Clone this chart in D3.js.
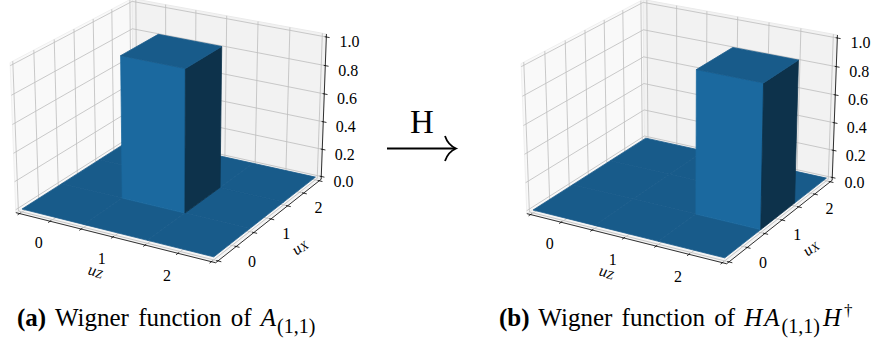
<!DOCTYPE html>
<html><head><meta charset="utf-8">
<script src="https://cdn.jsdelivr.net/npm/d3@7/dist/d3.min.js"></script>
<style>
body{margin:0;background:#fff}
text{font-family:"Liberation Serif","Times New Roman",serif;fill:#000}
</style>
</head><body>
<svg id="c" width="876" height="343" xmlns="http://www.w3.org/2000/svg" font-family="Liberation Serif, Times New Roman, serif"></svg>
<script>
// ---------------- data ----------------
const uzCategories = ["0", "1", "2"];          // x axis (u_Z)
const uxCategories = ["0", "1", "2"];          // y axis (u_X)
const gridTicks = [0, 0.5, 1, 1.5, 2, 2.5, 3]; // tick marks / grid on uz, ux
const zTicks = [0, 0.2, 0.4, 0.6, 0.8, 1.0];
const zTickLabels = ["0.0", "0.2", "0.4", "0.6", "0.8", "1.0"];
// Wigner function values, indexed [uz][ux]
const wignerA   = [[0, 0, 0], [0, 1, 0], [0, 0, 0]];
const wignerHAH = [[0, 0, 0], [0, 0, 0], [0, 1, 0]];
const captionLabels = ["(a)", "(b)"];
const arrowLabel = "H";

// ---------------- 3D projection (matplotlib-like) ----------------
const elev = 23.3, azim = -60, dist = 10;
const lim = {x: [0, 3], y: [0, 3], z: [0, 1]};
let asp = [4, 4, 3];
const an = Math.hypot(...asp);
asp = asp.map(a => a * 1.8294640721620434 / an);
const R = asp.map(a => a / 2);
const er = elev * Math.PI / 180, ar = azim * Math.PI / 180;
const w = [Math.cos(er) * Math.cos(ar), Math.cos(er) * Math.sin(ar), Math.sin(er)];
let u = [-w[1], w[0], 0]; const un = Math.hypot(...u); u = u.map(a => a / un);
const v = [w[1]*u[2]-w[2]*u[1], w[2]*u[0]-w[0]*u[2], w[0]*u[1]-w[1]*u[0]];
function proj(x, y, z) {
  const q = [
    (x - lim.x[0]) / (lim.x[1] - lim.x[0]) * asp[0] - R[0],
    (y - lim.y[0]) / (lim.y[1] - lim.y[0]) * asp[1] - R[1],
    (z - lim.z[0]) / (lim.z[1] - lim.z[0]) * asp[2] - R[2]];
  const dot = a => a[0]*q[0] + a[1]*q[1] + a[2]*q[2];
  const d = dist - dot(w);
  return [dot(u) / d, dot(v) / d];
}
const sx = d3.scaleLinear().domain([0, 1]).range([171.5, 171.5 + 1910]);
const sy = d3.scaleLinear().domain([0, 1]).range([123.1, 123.1 - 1800]);
const P = (x, y, z) => { const p = proj(x, y, z); return [sx(p[0]), sy(p[1])]; };
const path = (pts, close) => "M" + pts.map(p => P(...p).map(n => n.toFixed(2)).join(",")).join("L") + (close ? "Z" : "");

const dX = (lim.x[1]-lim.x[0]) / 12, dY = (lim.y[1]-lim.y[0]) / 12, dZ = (lim.z[1]-lim.z[0]) / 12;
const x0 = lim.x[0] - dX/4, x1 = lim.x[1] + dX/4;
const y0 = lim.y[0] - dY/4, y1 = lim.y[1] + dY/4;
const z0 = lim.z[0] - dZ/4, z1 = lim.z[1] + dZ/4;

const base = d3.rgb("#1f77b4");
function shade(n) {
  const L = [-0.6667, -0.6667, 0.3333];
  const s = n[0]*L[0] + n[1]*L[1] + n[2]*L[2];
  const f = 0.3 + 0.7 * (s + 1) / 2;
  return d3.rgb(base.r * f, base.g * f, base.b * f).formatHex();
}
const cTop = shade([0,0,1]), cFront = shade([0,-1,0]), cRight = shade([1,0,0]);

const svg = d3.select("#c");
const panels = [{vals: wignerA, dx: 0, dy: 0}, {vals: wignerHAH, dx: 511, dy: 1}];

panels.forEach(pn => {
  const g = svg.append("g").attr("transform", `translate(${pn.dx},${pn.dy})`);
  // panes
  g.append("path").attr("d", path([[x0,y0,z0],[x0,y1,z0],[x0,y1,z1],[x0,y0,z1]], true))
    .attr("fill", "rgb(249,249,249)").attr("stroke", "rgb(240,240,240)").attr("stroke-width", 1);
  g.append("path").attr("d", path([[x0,y1,z0],[x1,y1,z0],[x1,y1,z1],[x0,y1,z1]], true))
    .attr("fill", "rgb(242,242,242)").attr("stroke", "rgb(234,234,234)").attr("stroke-width", 1);
  g.append("path").attr("d", path([[x0,y0,z0],[x1,y0,z0],[x1,y1,z0],[x0,y1,z0]], true))
    .attr("fill", "rgb(245,245,245)").attr("stroke", "rgb(236,236,236)").attr("stroke-width", 1);
  // grid
  const grid = g.append("g").attr("fill", "none").attr("stroke", "#bdbdbd").attr("stroke-width", 0.8);
  gridTicks.forEach(t => {
    grid.append("path").attr("d", path([[t,y0,z0],[t,y1,z0],[t,y1,z1]]));
    grid.append("path").attr("d", path([[x1,t,z0],[x0,t,z0],[x0,t,z1]]));
  });
  zTicks.forEach(t => grid.append("path").attr("d", path([[x0,y0,t],[x0,y1,t],[x1,y1,t]])));
  // axis lines + ticks
  const ax = g.append("g").attr("fill", "none").attr("stroke", "#000").attr("stroke-width", 0.8);
  ax.append("path").attr("d", path([[x0,y0,z0],[x1,y0,z0]]));
  ax.append("path").attr("d", path([[x1,y0,z0],[x1,y1,z0]]));
  ax.append("path").attr("d", path([[x1,y1,z0],[x1,y1,z1]]));
  gridTicks.forEach(t => {
    ax.append("path").attr("d", path([[t, y0 - 0.2*dY, z0],[t, y0 + 0.1*dY, z0]]));
    ax.append("path").attr("d", path([[x1 + 0.2*dX, t, z0],[x1 - 0.1*dX, t, z0]]));
  });
  zTicks.forEach(t => ax.append("path").attr("d", path([[x1 + 0.2*dX, y1, t],[x1 - 0.1*dX, y1, t]])));
  // bars (zero-height cells form the floor)
  const cells = [];
  pn.vals.forEach((row, i) => row.forEach((h, j) => cells.push({x: i, y: j, h})));
  cells.sort((a, b) => a.h - b.h);
  const bars = g.append("g");
  cells.forEach(c => {
    const xa = c.x, xb = c.x + 1, ya = c.y, yb = c.y + 1, h = c.h;
    if (h > 0) {
      bars.append("path").attr("d", path([[xa,ya,0],[xb,ya,0],[xb,ya,h],[xa,ya,h]], true))
        .attr("fill", cFront).attr("stroke", cFront).attr("stroke-width", 0.8);
      bars.append("path").attr("d", path([[xb,ya,0],[xb,yb,0],[xb,yb,h],[xb,ya,h]], true))
        .attr("fill", cRight).attr("stroke", cRight).attr("stroke-width", 0.8);
    }
    bars.append("path").attr("d", path([[xa,ya,h],[xb,ya,h],[xb,yb,h],[xa,yb,h]], true))
      .attr("fill", cTop).attr("stroke", cTop).attr("stroke-width", 0.8);
  });
  // tick labels
  const lab = g.append("g").attr("font-size", 16).attr("text-anchor", "middle").attr("dominant-baseline", "central");
  uzCategories.forEach((s, i) => {
    const p = P(i + 0.5, y0 - 1.15*dY, z0 - 1.15*dZ);
    lab.append("text").attr("x", p[0]).attr("y", p[1]).text(s);
  });
  uxCategories.forEach((s, i) => {
    const p = P(x1 + 0.95*dX, i + 0.5, z0 - 0.95*dZ);
    lab.append("text").attr("x", p[0]).attr("y", p[1]).text(s);
  });
  zTicks.forEach((t, i) => {
    const p = P(x1 + 1.4*dX, y1, t);
    lab.append("text").attr("x", p[0]).attr("y", p[1]).text(zTickLabels[i]);
  });
  // axis labels
  const gl = 1.75;
  const angle = (a, b) => Math.atan2(b[1] - a[1], b[0] - a[0]) * 180 / Math.PI;
  const xl = P(1.5, y0 - gl*dY, z0 - gl*dZ);
  const xang = angle(P(x0,y0,z0), P(x1,y0,z0));
  const tx = lab.append("text").attr("transform", `translate(${xl[0]},${xl[1]}) rotate(${xang})`);
  tx.append("tspan").attr("font-style", "italic").text("u");
  tx.append("tspan").attr("font-style", "italic").attr("font-size", 12).attr("dy", 3).text("Z");
  const yl = P(x1 + gl*dX, 1.5, z0 - gl*dZ);
  const yang = angle(P(x1,y0,z0), P(x1,y1,z0));
  const ty = lab.append("text").attr("transform", `translate(${yl[0]},${yl[1]}) rotate(${yang})`);
  ty.append("tspan").attr("font-style", "italic").text("u");
  ty.append("tspan").attr("font-style", "italic").attr("font-size", 12).attr("dy", 3).text("X");
});

// arrow between panels
svg.append("text").attr("x", 422).attr("y", 133).attr("text-anchor", "middle").attr("font-size", 33).text(arrowLabel);
svg.append("path").attr("d", "M387,148.5L455,148.5").attr("stroke", "#000").attr("stroke-width", 2).attr("fill", "none");
svg.append("path").attr("d", "M445,136 Q448,145 456,148.5 Q448,152 445,161").attr("stroke", "#000").attr("stroke-width", 1.8).attr("fill", "none");

// captions
const capA = svg.append("text").attr("x", 17).attr("y", 326).attr("font-size", 25).attr("word-spacing", 3);
capA.append("tspan").attr("font-weight", "bold").text(captionLabels[0]);
capA.append("tspan").text(" Wigner function of ");
capA.append("tspan").attr("font-style", "italic").text("A");
capA.append("tspan").attr("font-size", 20).attr("dx", 1).attr("dy", 7).text("(1,1)");

const capB = svg.append("text").attr("x", 499).attr("y", 326).attr("font-size", 25).attr("word-spacing", 3);
capB.append("tspan").attr("font-weight", "bold").text(captionLabels[1]);
capB.append("tspan").text(" Wigner function of ");
capB.append("tspan").attr("font-style", "italic").text("H");
capB.append("tspan").attr("font-style", "italic").attr("dx", 2).text("A");
capB.append("tspan").attr("font-size", 20).attr("dx", 2).attr("dy", 7).text("(1,1)");
capB.append("tspan").attr("font-style", "italic").attr("dx", 3).attr("dy", -7).text("H");
capB.append("tspan").attr("font-size", 17).attr("dx", 3).attr("dy", -10).text("†");
</script>
</body></html>
